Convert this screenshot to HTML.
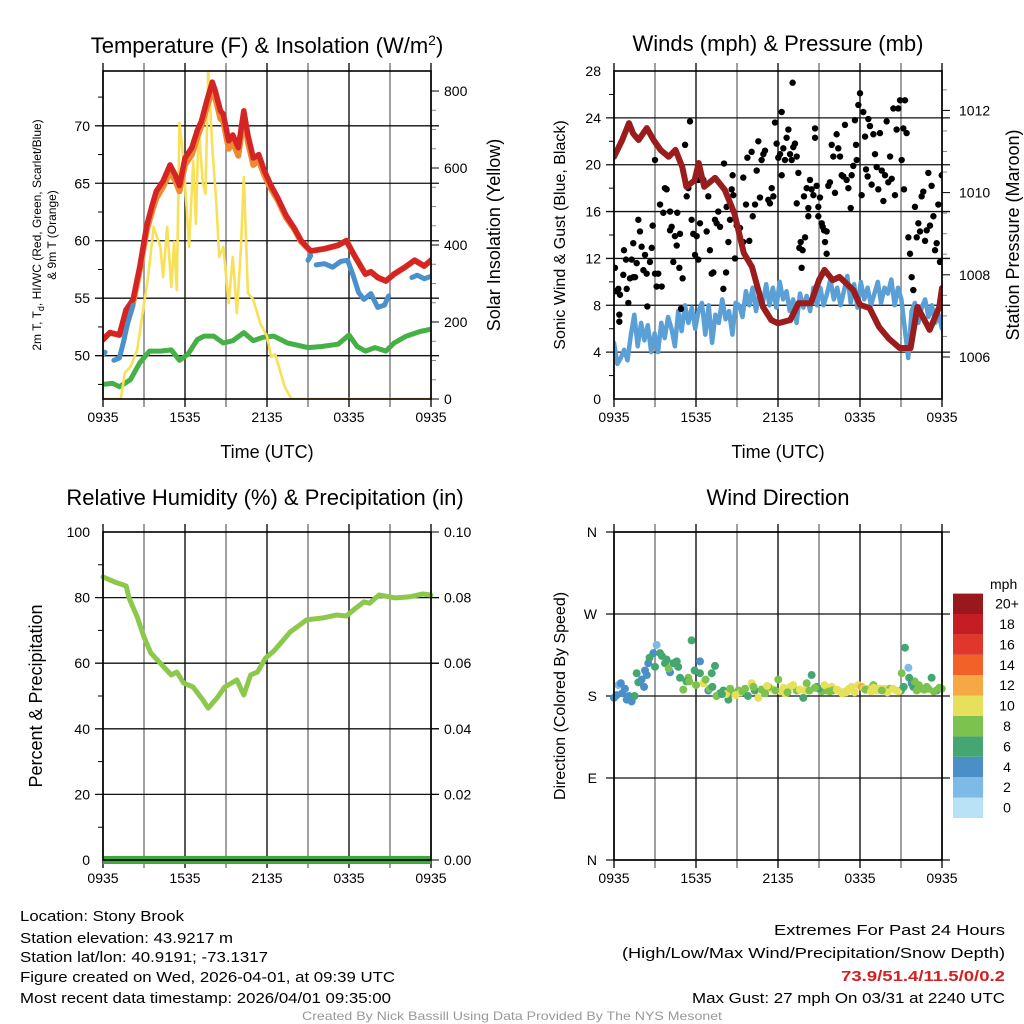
<!DOCTYPE html>
<html><head><meta charset="utf-8"><style>
html,body{margin:0;padding:0;background:#fff}
svg{display:block;font-family:"Liberation Sans",Arial,sans-serif}
</style></head><body>
<svg id="chart" width="1024" height="1024" viewBox="0 0 1024 1024" xmlns="http://www.w3.org/2000/svg">
<rect width="1024" height="1024" fill="#fff"/>
<g id="root"></g>
<g font-size="15" fill="#000">
<text x="20" y="921" textLength="164" lengthAdjust="spacingAndGlyphs">Location: Stony Brook</text>
<text x="20" y="943" textLength="213" lengthAdjust="spacingAndGlyphs">Station elevation: 43.9217 m</text>
<text x="20" y="962" textLength="248" lengthAdjust="spacingAndGlyphs">Station lat/lon: 40.9191; -73.1317</text>
<text x="20" y="982" textLength="375" lengthAdjust="spacingAndGlyphs">Figure created on Wed, 2026-04-01, at 09:39 UTC</text>
<text x="20" y="1003" textLength="371" lengthAdjust="spacingAndGlyphs">Most recent data timestamp: 2026/04/01 09:35:00</text>
</g>
<g font-size="15" fill="#000">
<text x="774" y="935" textLength="231" lengthAdjust="spacingAndGlyphs">Extremes For Past 24 Hours</text>
<text x="622" y="958" textLength="383" lengthAdjust="spacingAndGlyphs">(High/Low/Max Wind/Precipitation/Snow Depth)</text>
<text x="841" y="981" font-weight="bold" fill="#d42020" textLength="164" lengthAdjust="spacingAndGlyphs">73.9/51.4/11.5/0/0.2</text>
<text x="692" y="1003" textLength="313" lengthAdjust="spacingAndGlyphs">Max Gust: 27 mph On 03/31 at 2240 UTC</text>
</g>
<text x="302" y="1020" font-size="12" fill="#999" textLength="420" lengthAdjust="spacingAndGlyphs">Created By Nick Bassill Using Data Provided By The NYS Mesonet</text>
</svg>
<script>
// ---------- data ----------
const timeTicks = ["0935","1535","2135","0335","0935"];
const tempT = [0,0.5,1.2,1.7,2.2,2.7,3.2,3.6,3.9,4.4,4.9,5.3,5.6,6.0,6.5,6.9,7.2,7.6,8.0,8.2,8.6,8.8,9.2,9.5,9.9,10.3,10.6,11.0,11.4,11.8,12.3,12.8,13.4,14.0,14.5,15.2,16.2,17.2,17.8,18.4,19.2,19.6,20.1,20.7,21.3,22.1,22.8,23.5,24];
const tempRed = [51.4,52.0,51.8,54.0,54.9,57.8,61.3,63.1,64.3,65.2,66.6,65.7,64.8,67.2,68.1,69.6,70.4,72.2,73.8,73.1,71.3,71.0,68.7,69.2,68.1,71.3,69.2,67.2,67.5,66.1,64.8,63.7,62.2,61.1,60.0,59.1,59.3,59.6,60.0,58.7,57.1,57.3,56.8,56.5,57.1,57.7,58.3,57.8,58.3];
const temp9m = [51.4,52.0,51.8,54.0,54.6,57.5,60.9,62.6,63.7,64.7,66.0,65.2,64.3,66.6,67.5,69.0,70.0,71.6,73.1,72.5,70.6,70.4,68.0,68.6,67.4,70.7,68.6,66.6,67.0,65.7,64.5,63.5,62.0,61.0,59.9,59.1,59.3,59.6,60.0,58.7,57.1,57.3,56.8,56.5,57.1,57.7,58.3,57.8,58.3];
const hiwcSegT = [[0,0.15],[0.8,1.2,1.5,1.8,2.2],[15.0,15.2],[15.6,16.2,16.8,17.4,17.9,18.3,18.7,19.1,19.6,20.1,20.6,20.9],[22.6,23.0,23.5,24]];
const hiwcSegV = [[50.1,50.3],[49.6,49.8,51.2,52.8,54.4],[58.3,58.7],[57.9,58.0,57.7,58.2,58.3,57.0,55.5,54.9,55.4,54.2,54.4,55.2],[56.8,57.0,56.7,56.9]];
const dewT = [0,0.7,1.2,2.0,2.7,3.4,4.2,5.0,5.6,6.2,6.9,7.4,8.1,8.8,9.5,10.3,11.0,11.7,12.5,13.5,15.0,16.0,17.2,18.0,18.6,19.2,19.9,20.7,21.3,22.2,23.2,24];
const dewV = [47.5,47.6,47.3,47.9,49.4,50.4,50.4,50.5,49.6,50.1,51.4,51.7,51.7,51.1,51.3,52.0,51.3,51.6,51.7,51.1,50.7,50.8,51.0,51.8,50.8,50.4,50.7,50.4,51.1,51.7,52.1,52.3];
const solarT = [0,1.3,1.6,2.0,2.5,2.9,3.3,3.7,4.2,4.4,4.7,5.0,5.2,5.4,5.6,5.9,6.3,6.6,6.8,7.0,7.3,7.5,7.7,8.0,8.3,8.5,8.8,9.2,9.5,9.8,10.1,10.3,10.6,11.0,11.5,12.0,12.3,12.6,13.3,13.8,24];
const solarV = [0,0,68,83,127,223,317,447,395,317,447,291,408,283,717,618,395,618,455,707,559,533,852,653,507,369,395,249,369,223,395,577,275,258,197,163,109,117,31,0,0];

const pressT = [0,0.6,1.1,1.4,1.8,2.4,2.9,3.4,4.0,4.5,5.0,5.3,5.9,6.2,6.6,7.4,8.1,8.8,9.5,10.1,10.5,10.9,11.5,12.0,12.9,13.5,14.4,15.0,15.4,16.0,16.5,17.5,18.0,18.7,19.4,20.1,20.9,21.7,22.2,23.1,23.8,24];
const pressV = [1010.87,1011.28,1011.69,1011.44,1011.28,1011.57,1011.28,1011.04,1010.87,1011.04,1010.62,1010.14,1010.3,1010.72,1010.14,1010.36,1010.07,1009.5,1008.53,1008.19,1007.7,1007.22,1006.9,1006.82,1006.9,1007.31,1007.31,1007.87,1008.12,1007.87,1007.95,1007.63,1007.27,1007.19,1006.73,1006.45,1006.22,1006.22,1007.22,1006.66,1007.22,1007.68];
const windV = [4.8,3.0,3.5,4.2,3.3,5.5,7.2,4.5,6.5,5.0,6.3,4.0,5.6,4.0,6.5,5.2,7.0,6.0,4.5,7.5,5.8,8.0,6.5,7.8,6.0,7.5,8.2,5.5,8.0,4.8,7.2,6.5,8.5,6.8,7.5,5.5,8.2,8.0,7.0,9.2,8.0,9.5,7.5,9.0,8.2,9.8,8.0,9.5,7.8,10.0,8.5,9.2,7.5,8.5,6.5,9.0,7.8,8.8,7.5,9.5,8.0,9.5,8.0,9.0,10.2,8.5,9.5,8.0,9.2,10.5,8.2,9.8,7.8,10.0,8.5,9.5,8.0,9.0,10.0,8.2,9.5,9.0,10.2,8.0,9.5,8.5,6.0,3.5,7.5,8.2,6.5,7.8,8.5,7.0,8.0,6.5,7.2,6.0];
const gustT = [0.07,0.15,0.32,0.44,0.39,0.39,0.68,0.73,0.88,0.93,1.05,1.17,1.29,1.41,1.54,1.41,1.66,1.78,1.9,2.02,2.27,2.15,2.39,2.44,2.63,2.76,2.83,3.0,3.0,3.12,3.24,3.37,3.49,3.61,3.73,3.85,4.1,4.1,4.22,4.34,4.46,4.59,4.63,4.78,4.83,4.9,5.02,5.2,5.32,5.44,5.56,5.68,5.8,5.93,6.05,6.17,6.29,6.17,6.54,6.78,6.9,7.02,7.15,7.27,7.39,7.51,7.63,7.76,8.0,8.05,8.2,8.24,8.37,8.49,8.61,8.68,8.73,8.85,8.98,9.22,9.46,9.46,9.66,9.76,9.9,10.07,10.15,10.32,10.44,10.56,10.68,10.8,10.93,11.05,11.29,11.41,11.54,11.66,11.78,11.9,12.02,12.15,12.27,12.27,12.39,12.51,12.63,12.76,12.88,13.0,13.07,13.12,13.24,13.37,13.49,13.37,13.56,13.66,13.73,13.8,13.9,13.98,14.1,14.22,14.22,14.34,14.46,14.59,14.71,14.71,14.83,14.95,14.95,15.07,15.2,15.27,15.37,15.44,15.56,15.56,15.68,15.8,15.93,16.05,16.17,16.29,16.41,16.54,16.66,16.78,16.9,17.02,17.15,17.32,17.39,17.51,17.63,17.71,17.76,17.88,18.0,18.12,18.24,18.37,18.44,18.56,18.61,18.73,18.85,18.98,19.1,19.22,19.34,19.46,19.59,19.71,19.83,19.95,20.07,20.2,20.32,20.44,20.56,20.68,20.8,20.93,21.05,21.17,21.22,21.29,21.41,21.54,21.66,21.78,21.9,22.02,22.15,22.27,22.39,22.51,22.63,22.76,22.88,23.0,23.12,23.24,23.37,23.49,23.61,23.73,23.85,23.98];
const gustV = [11.2,9.2,9.4,8.9,7.2,6.6,10.6,12.7,11.9,9.4,8.2,10.3,11.9,10.4,10.4,13.3,11.6,15.3,14.3,13.0,12.3,11.0,10.7,7.9,11.7,12.9,14.8,10.7,20.4,9.6,10.7,16.6,9.6,15.9,18.0,17.9,16.0,14.4,14.7,11.7,13.9,13.1,15.9,11.2,14.1,7.7,10.3,21.7,17.3,18.0,23.7,15.3,14.1,12.3,13.9,11.9,15.0,18.7,18.7,14.3,17.3,12.7,10.7,10.8,15.3,15.0,16.0,14.7,9.4,20.1,10.8,16.4,13.4,15.3,17.9,19.1,17.4,12.0,14.8,14.6,18.9,13.4,16.6,20.6,13.5,21.1,15.6,16.6,19.5,22.0,17.2,20.4,20.9,21.2,17.0,16.7,18.0,17.3,23.6,21.8,20.6,20.9,24.5,19.1,21.4,20.4,22.3,23.0,20.9,20.4,27.0,21.5,21.8,20.7,19.3,16.7,12.9,13.4,11.2,12.7,17.3,13.8,18.0,16.3,15.6,18.7,17.9,17.4,22.3,23.1,18.2,16.4,15.6,17.2,15.0,14.7,14.4,13.4,14.3,12.4,18.2,18.5,21.7,20.7,17.6,22.6,21.4,20.7,19.1,19.0,23.4,18.7,18.0,16.3,19.1,19.9,23.8,21.7,20.4,25.1,26.1,17.4,24.5,22.4,19.6,19.0,23.9,23.3,18.3,22.6,20.9,19.8,17.9,22.7,19.5,16.9,19.1,23.7,18.5,20.7,18.8,24.8,17.4,23.0,24.8,25.5,20.4,23.1,17.9,25.5,22.7,13.8,12.4,10.4,9.3,16.4,13.8,15.0,14.3,17.3,17.7,13.5,14.4,19.3,14.8,18.2,15.6,12.7,13.3,16.6,11.7,19.1];

const rhT = [0,1.0,1.4,1.7,1.9,2.5,3.0,3.5,4.3,5.0,5.4,5.9,6.6,7.3,7.7,8.4,8.9,9.8,10.3,10.8,11.3,11.9,12.5,13.7,14.9,16.1,17.1,17.8,18.5,19.1,19.5,20.2,21.4,22.4,23.4,24];
const rhV = [86.3,84.5,84.0,83.5,79.9,74.1,68.0,63.1,59.5,56.4,57.3,54.0,52.7,48.8,46.3,49.7,52.7,54.9,50.3,56.4,57.3,61.6,63.7,69.5,73.2,73.8,74.7,74.4,76.8,78.7,78.3,80.8,79.9,80.2,81.1,80.8];
const precipT = [0,24];
const precipV = [0,0];

const dirT = [0.0,0.32,0.5,0.93,1.29,1.66,1.78,2.02,2.27,2.51,2.88,3.12,3.37,3.73,3.85,4.10,4.34,4.59,4.83,5.07,5.44,5.68,6.29,6.29,6.54,6.90,7.15,7.39,7.76,8.0,8.37,8.73,9.10,9.59,10.07,10.56,11.05,11.54,12.02,12.51,12.88,13.37,13.85,14.10,14.46,14.83,15.2,15.56,15.93,16.41,16.9,17.39,17.88,18.12,18.61,18.98,19.46,19.83,20.2,20.68,21.05,21.29,21.54,21.78,21.9,22.15,22.51,22.88,23.24,23.61,23.98,0.6,1.1,2.2,3.0,4.0,5.3,6.0,7.0,8.2,9.3,10.3,11.3,12.2,13.1,14.0,15.0,16.0,17.0,18.3,19.2,20.0,21.0,22.0,23.0,
 0.2,0.8,1.5,2.4,2.6,3.5,4.7,5.5,5.9,6.7,7.2,7.5,7.9,8.5,8.9,9.4,9.8,10.2,10.8,11.2,11.8,12.4,12.7,13.6,14.3,14.7,15.4,15.8,16.3,16.7,17.2,17.6,18.4,18.8,19.0,19.6,20.4,20.8,21.2,21.6,22.3,22.7,23.4,23.8];
const dirV = [178,192,194,176,174,205,195,198,208,216,227,236,227,216,220,206,216,218,200,187,200,241,218,205,194,186,205,213,183,186,176,183,186,188,194,178,183,188,198,183,190,186,178,194,203,190,185,186,190,186,185,190,192,190,188,192,188,188,188,186,205,233,211,194,190,186,188,190,200,186,188,183,180,190,212,210,196,192,188,182,184,186,190,185,192,186,188,186,184,188,186,184,186,196,188,
 181,188,180,203,222,224,212,196,208,198,190,180,182,188,181,185,180,190,187,191,186,189,184,187,186,189,192,185,187,183,188,184,187,185,189,186,188,185,190,200,192,187,185,189];
const dirSpd = [4,2,4,4,4,6,6,4,4,4,4,2,6,6,6,4,6,6,6,8,8,6,4,6,10,4,6,6,6,6,6,8,8,8,10,10,8,10,8,10,10,8,6,8,6,6,8,8,10,10,10,10,10,12,10,8,10,10,8,10,8,6,2,4,6,8,8,8,6,6,8,4,4,4,6,8,6,8,8,10,10,6,8,10,10,10,6,8,10,10,10,10,6,8,8,
 4,4,6,4,6,6,6,8,6,8,6,8,6,8,10,8,6,8,8,10,8,10,8,10,8,8,10,8,10,10,10,10,8,10,10,8,10,10,6,6,8,8,8,8];
const speedColors = ["#b8e3f7","#7dbbe6","#4a8fc7","#45a672","#7bc24e","#e6e05a","#f6a845","#f26228","#e0372c","#c41e24","#98181c"];
const speedLabels = ["0","2","4","6","8","10","12","14","16","18","20+"];

// ---------- helpers ----------
const NS = "http://www.w3.org/2000/svg";
const root = document.getElementById("root");
function mk(tag, attrs, parent){ const e=document.createElementNS(NS,tag); for(const k in attrs) e.setAttribute(k,attrs[k]); (parent||root).appendChild(e); return e; }
function txt(s, attrs, parent){ const e=mk("text",attrs,parent); e.textContent=s; return e; }
function panel(x0,y0,name){ return {x0:x0, x1:x0+328, y0:y0, y1:y0+328, name:name, xs:h=>x0+h/24*328}; }
function lin(v0,v1,p){ return v=>p.y1-(v-v0)/(v1-v0)*(p.y1-p.y0); }
function frame(p, g){
  for(let i=0;i<=8;i++){ const x=p.xs(i*3);
    const l=mk("line",{x1:x,x2:x,y1:p.y0-8,y2:p.y1+8,stroke:(i%2?"#777":"#111"),"stroke-width":1.4},g);
    
     }
  timeTicks.forEach((t,i)=>{ const e=txt(t,{x:p.xs(i*6),y:p.y1+23,"font-size":14,"text-anchor":"middle"},g);
    
     });
}
function hgrid(p,g,ys){ ys.forEach(y=>{ const l=mk("line",{x1:p.x0-8,x2:p.x1+8,y1:y,y2:y,stroke:"#111","stroke-width":1.3},g);
  
   }); }
function border(p,g){ const r=mk("rect",{x:p.x0,y:p.y0,width:328,height:328,fill:"none",stroke:"#000","stroke-width":1.6},g);
  
   }
function path(ts,vs,p,ys,attrs,g,name){ let d=""; ts.forEach((t,i)=>{ d+=(i?"L":"M")+p.xs(t).toFixed(1)+","+ys(vs[i]).toFixed(1); });
  const e=mk("path",Object.assign({d:d,fill:"none","stroke-linejoin":"round","stroke-linecap":"round"},attrs),g);
  
   return e; }

// ---------- Panel 1: Temperature ----------
{
 const p=panel(103,71);
 const g=mk("g",{});  
 const yT=lin(46.23,74.77,p), yS=lin(0,852,p);
 const clip=mk("clipPath",{id:"c1"},g); mk("rect",{x:p.x0,y:p.y0,width:328,height:328},clip);
 frame(p,g);
 hgrid(p,g,[50,55,60,65,70].map(yT));
 [50,55,60,65,70].forEach(v=>{ const e=txt(String(v),{x:p.x0-13,y:yT(v)+5,"font-size":14,"text-anchor":"end"},g);   });
 [47.5,52.5,57.5,62.5,67.5,72.5].forEach(v=>{ mk("line",{x1:p.x0-5,x2:p.x0,y1:yT(v),y2:yT(v),stroke:"#000"},g); });
 [0,200,400,600,800].forEach(v=>{ mk("line",{x1:p.x1,x2:p.x1+8,y1:yS(v),y2:yS(v),stroke:"#000"},g);
   const e=txt(String(v),{x:p.x1+13,y:yS(v)+5,"font-size":14},g);   });
 [50,100,150,250,300,350,450,500,550,650,700,750].forEach(v=>{ mk("line",{x1:p.x1,x2:p.x1+5,y1:yS(v),y2:yS(v),stroke:"#888"},g); });
 const dg=mk("g",{"clip-path":"url(#c1)"},g);
 path(dewT,dewV,p,yT,{stroke:"#45b045","stroke-width":5},dg,"dewpoint-line");
 path(solarT,solarV,p,yS,{stroke:"#f8e058","stroke-width":2.6},dg,"solar-line");
 path(tempT,temp9m,p,yT,{stroke:"#f08a30","stroke-width":6},dg,"temp-9m-line");
 path(tempT,tempRed,p,yT,{stroke:"#d42424","stroke-width":5.5},dg,"temp-2m-line");
 hiwcSegT.forEach((s,i)=>path(s,hiwcSegV[i],p,yT,{stroke:"#4a90cc","stroke-width":5},dg,"heat-index-windchill-line"));
 border(p,g);
 const t=mk("text",{x:267,y:53,"font-size":22,"text-anchor":"middle"},g);  
 t.innerHTML='Temperature (F) &amp; Insolation (W/m<tspan dy="-8" font-size="14">2</tspan><tspan dy="8">)</tspan>';
 const a=txt("Time (UTC)",{x:267,y:458,"font-size":18,"text-anchor":"middle"},g);  
 const y1=mk("text",{transform:"translate(41,235) rotate(-90)","font-size":12,"text-anchor":"middle"},g);  
 y1.innerHTML='2m T, T<tspan font-size="9" dy="3">d</tspan><tspan dy="-3">, HI/WC (Red, Green, Scarlet/Blue)</tspan>';
 const y2=txt("& 9m T (Orange)",{transform:"translate(56,235) rotate(-90)","font-size":12,"text-anchor":"middle"},g);  
 const y3=txt("Solar Insolation (Yellow)",{transform:"translate(500,235) rotate(-90)","font-size":18,"text-anchor":"middle"},g);  
}
// ---------- Panel 2: Winds ----------
{
 const p=panel(614,71);
 const g=mk("g",{});  
 const yW=lin(0,28,p), yP=lin(1006-(399-357)/41.1,1006+(357-71)/41.1,p);
 const clip=mk("clipPath",{id:"c2"},g); mk("rect",{x:p.x0,y:p.y0,width:328,height:328},clip);
 frame(p,g);
 hgrid(p,g,[4,8,12,16,20,24].map(yW));
 [0,4,8,12,16,20,24,28].forEach(v=>{ const e=txt(String(v),{x:p.x0-13,y:yW(v)+5,"font-size":14,"text-anchor":"end"},g);   });
 [2,6,10,14,18,22,26].forEach(v=>{ mk("line",{x1:p.x0-5,x2:p.x0,y1:yW(v),y2:yW(v),stroke:"#000"},g); });
 [1006,1008,1010,1012].forEach(v=>{ mk("line",{x1:p.x1,x2:p.x1+8,y1:yP(v),y2:yP(v),stroke:"#000"},g);
   const e=txt(String(v),{x:p.x1+17,y:yP(v)+5,"font-size":14},g);   });
 [1006.5,1007,1007.5,1008.5,1009,1009.5,1010.5,1011,1011.5,1012.5].forEach(v=>{ mk("line",{x1:p.x1,x2:p.x1+5,y1:yP(v),y2:yP(v),stroke:"#888"},g); });
 const dg=mk("g",{"clip-path":"url(#c2)"},g);
 const wT=windV.map((v,i)=>i*24/(windV.length-1));
 path(wT,windV,p,yW,{stroke:"#5a9fd6","stroke-width":4.5},dg,"sonic-wind-line");
 gustT.forEach((t,i)=>{ const c=mk("circle",{cx:p.xs(t),cy:yW(gustV[i]),r:3.2,fill:"#000"},dg);
   
    });
 path(pressT,pressV,p,yP,{stroke:"#9b1c1c","stroke-width":6},dg,"pressure-line");
 border(p,g);
 const t=txt("Winds (mph) & Pressure (mb)",{x:778,y:51,"font-size":22,"text-anchor":"middle"},g);  
 const a=txt("Time (UTC)",{x:778,y:458,"font-size":18,"text-anchor":"middle"},g);  
 const y1=txt("Sonic Wind & Gust (Blue, Black)",{transform:"translate(565,235) rotate(-90)","font-size":16,"text-anchor":"middle"},g);  
 const y2=txt("Station Pressure (Maroon)",{transform:"translate(1019,235) rotate(-90)","font-size":18,"text-anchor":"middle"},g);  
}
// ---------- Panel 3: RH ----------
{
 const p=panel(103,532);
 const g=mk("g",{});  
 const yR=lin(0,100,p), yPr=lin(0,0.10,p);
 frame(p,g);
 hgrid(p,g,[20,40,60,80].map(yR));
 [0,20,40,60,80,100].forEach(v=>{ const e=txt(String(v),{x:p.x0-13,y:yR(v)+5,"font-size":14,"text-anchor":"end"},g);   });
 [10,30,50,70,90].forEach(v=>{ mk("line",{x1:p.x0-5,x2:p.x0,y1:yR(v),y2:yR(v),stroke:"#000"},g); });
 ["0.00","0.02","0.04","0.06","0.08","0.10"].forEach(s=>{ const v=parseFloat(s); mk("line",{x1:p.x1,x2:p.x1+8,y1:yPr(v),y2:yPr(v),stroke:"#000"},g);
   const e=txt(s,{x:p.x1+13,y:yPr(v)+5,"font-size":14},g);   });
 path(rhT,rhV,p,yR,{stroke:"#8cc84b","stroke-width":5},g,"rh-line");
 path(precipT,precipV,p,yPr,{stroke:"#3ea83e","stroke-width":8,"stroke-linecap":"butt"},g,"precip-line");
 border(p,g);
 const t=txt("Relative Humidity (%) & Precipitation (in)",{x:265,y:505,"font-size":22,"text-anchor":"middle"},g);  
 const y1=txt("Percent & Precipitation",{transform:"translate(42,696) rotate(-90)","font-size":18,"text-anchor":"middle"},g);  
}
// ---------- Panel 4: Wind direction ----------
{
 const p=panel(614,532);
 const g=mk("g",{});  
 const yD=lin(0,360,p);
 frame(p,g);
 hgrid(p,g,[0,90,180,270,360].map(yD));
 ["N","E","S","W","N"].forEach((s,i)=>{ const e=txt(s,{x:p.x0-17,y:yD(i*90)+5,"font-size":14,"text-anchor":"end"},g);   });
 dirT.forEach((t,i)=>{ const c=mk("circle",{cx:p.xs(t),cy:yD(dirV[i]),r:4,fill:speedColors[Math.min(10,Math.floor(dirSpd[i]/2))]},g);
   
    });
 border(p,g);
 const t=txt("Wind Direction",{x:778,y:505,"font-size":22,"text-anchor":"middle"},g);  
 const y1=txt("Direction (Colored By Speed)",{transform:"translate(565,696) rotate(-90)","font-size":16,"text-anchor":"middle"},g);  
 const lg=mk("g",{},g);  
 const u=txt("mph",{x:990,y:589,"font-size":14},lg);  
 speedColors.forEach((c,i)=>{ const y=818-(i+1)*20.4;
   const r=mk("rect",{x:953,y:y,width:30,height:20.4,fill:c},lg);  
   const e=txt(speedLabels[i],{x:1007,y:y+15,"font-size":14,"text-anchor":"middle"},lg);   });
}
</script>
</body></html>
